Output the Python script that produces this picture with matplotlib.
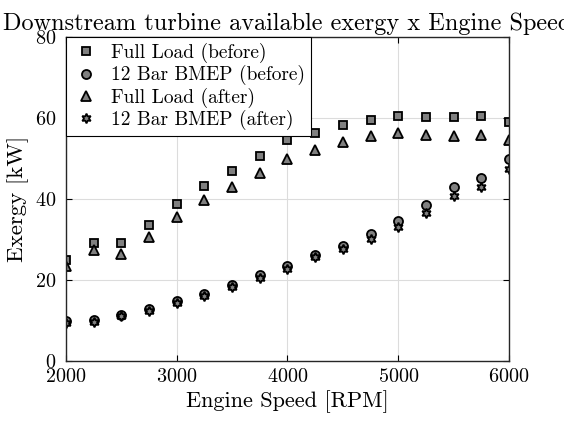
import matplotlib
matplotlib.use("Agg")
import matplotlib.pyplot as plt

plt.rcParams['font.family'] = 'serif'
plt.rcParams['font.serif'] = ['cmr10']
plt.rcParams['mathtext.fontset'] = 'cm'
plt.rcParams['axes.formatter.use_mathtext'] = True

rpm = [2000, 2250, 2500, 2750, 3000, 3250, 3500, 3750, 4000, 4250, 4500, 4750, 5000, 5250, 5500, 5750, 6000]
full_before = [25.0, 29.2, 29.2, 33.5, 38.7, 43.2, 46.9, 50.7, 54.6, 56.4, 58.3, 59.6, 60.6, 60.2, 60.2, 60.5, 59.0]
bmep_before = [9.8, 10.0, 11.4, 12.8, 14.7, 16.6, 18.8, 21.2, 23.5, 26.2, 28.4, 31.4, 34.6, 38.4, 42.9, 45.2, 49.8]
full_after = [23.5, 27.3, 26.4, 30.7, 35.5, 39.8, 42.9, 46.3, 49.9, 52.0, 54.1, 55.6, 56.2, 55.9, 55.6, 55.9, 54.6]
bmep_after = [9.4, 9.6, 11.0, 12.3, 14.2, 16.0, 18.2, 20.5, 22.8, 25.6, 27.7, 30.0, 33.2, 36.6, 40.8, 43.0, 47.3]

fig = plt.figure(figsize=(5.64, 4.25), dpi=100)
ax = fig.add_axes([0.117, 0.1506, 0.7855, 0.7624])

gray = '#808080'
kw = dict(linestyle='none', markerfacecolor=gray, markeredgecolor='black', markeredgewidth=1.3)
ax.plot(rpm, full_before, marker='s', markersize=5.5, label='Full Load (before)', **kw)
ax.plot(rpm, bmep_before, marker='o', markersize=6.5, label='12 Bar BMEP (before)', **kw)
ax.plot(rpm, full_after, marker='^', markersize=7.5, label='Full Load (after)', **kw)
ax.plot(rpm, bmep_after, marker=(6, 1, 0), markersize=7, label='12 Bar BMEP (after)', **kw)

ax.set_xlim(2000, 6000)
ax.set_ylim(0, 80)
ax.set_xticks([2000, 3000, 4000, 5000, 6000])
ax.set_yticks([0, 20, 40, 60, 80])
ax.grid(True, color='#dcdcdc', linewidth=0.8)
ax.set_axisbelow(True)
ax.tick_params(direction='in', top=True, right=True, labelsize=14.5, length=4)
ax.tick_params(axis='x', pad=5)
ax.tick_params(axis='y', pad=7)
for s in ax.spines.values():
    s.set_linewidth(1.0)
    s.set_color('#262626')

ax.set_xlabel('Engine Speed [RPM]', fontsize=16, labelpad=3)
ax.set_ylabel('Exergy [kW]', fontsize=16.5, labelpad=4)
ax.set_title('Downstream turbine available exergy x Engine Speed', fontsize=17.5, pad=5)

leg = ax.legend(loc='upper left', fontsize=14, frameon=True, fancybox=False,
                edgecolor='black', framealpha=1, borderaxespad=0.0,
                handlelength=1.5, handletextpad=0.5, labelspacing=0.12, borderpad=0.3)
leg.get_frame().set_linewidth(0.8)

fig.savefig('out.png', dpi=100)
